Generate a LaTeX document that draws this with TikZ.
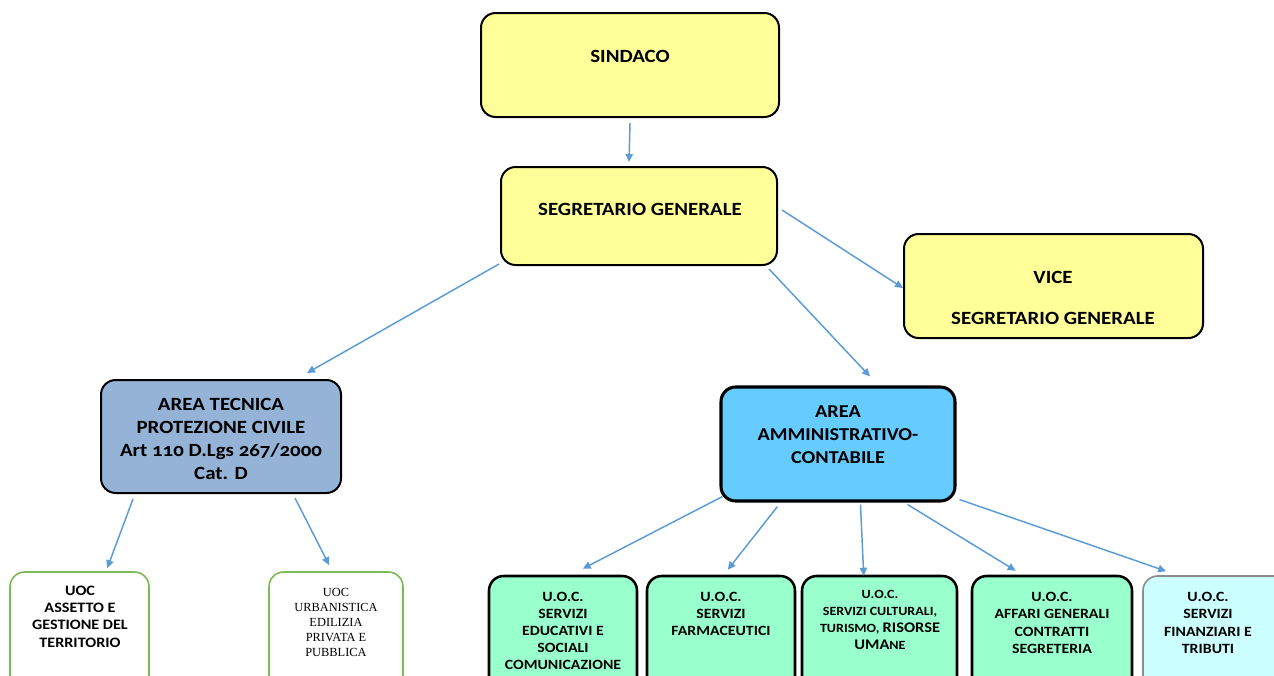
\documentclass[tikz,border=0pt]{standalone}
\usepackage{fontspec}
\setmainfont[FakeStretch=1.12]{Carlito}
\newfontfamily\onumfont[Numbers=OldStyle,FakeStretch=1.12]{Carlito}
\newfontfamily\serifx{Liberation Serif}
\usetikzlibrary{fit,calc,arrows.meta}
\definecolor{yel}{HTML}{FFFF99}
\definecolor{tecblue}{HTML}{95B3D7}
\definecolor{ammblue}{HTML}{66CCFF}
\definecolor{mint}{HTML}{99FFCC}
\definecolor{ltcyan}{HTML}{CCFFFF}
\definecolor{arrblue}{HTML}{5B9BD5}
\definecolor{leaf}{RGB}{125,185,85}
\definecolor{grayb}{HTML}{8C8C8C}
\tikzset{
  box/.style={draw=black, line width=1.5pt, rounded corners=11pt, inner sep=0pt},
  ybox/.style={box, fill=yel},
  gbox/.style={box, fill=mint, line width=1.9pt},
  wbox/.style={box, draw=leaf, line width=1.2pt, fill=white},
  txt/.style={align=center, inner sep=0pt, font=\bfseries\fontsize{14}{17}\selectfont},
  ttxt/.style={align=center, inner sep=0pt, font=\bfseries\fontsize{14}{17.25}\selectfont},
  atxt/.style={align=center, inner sep=0pt, font=\bfseries\fontsize{13.6}{17.25}\selectfont},
  stxt/.style={align=center, inner sep=0pt, font=\bfseries\fontsize{10.6}{12.9}\selectfont},
  arr/.style={draw=arrblue, line width=1.1pt, -{Triangle[length=6pt,width=5.5pt]}}
}
\begin{document}
\begin{tikzpicture}[x=0.75pt,y=-0.75pt]
\useasboundingbox (0,0) rectangle (1274,675);
\clip (0,0) rectangle (1274,675);
% boxes
\node[ybox, fit={(481,13) (779,117)}] (sindaco) {};
\node[ybox, fit={(501,167) (777,265)}] (segr) {};
\node[ybox, fit={(904,234) (1203,338)}] (vice) {};
\node[box, fill=tecblue, fit={(101,380) (341,493)}] (tec) {};
\node[box, fill=ammblue, line width=2.3pt, fit={(721,387) (955,501)}] (amm) {};
\node[wbox, fit={(10,572) (149,700)}] (assetto) {};
\node[wbox, fit={(269,572) (403,700)}] (urb) {};
\node[gbox, fit={(489,576) (637,700)}] (educ) {};
\node[gbox, fit={(647,576) (795,700)}] (farm) {};
\node[gbox, fit={(802,576) (957,700)}] (cult) {};
\node[gbox, fit={(972,576) (1132,700)}] (aff) {};
\node[box, fill=ltcyan, draw=grayb, line width=1.2pt, fit={(1143,576) (1290,700)}] (fin) {};
% texts
\node[txt] (sindacoT) at (630,56) {SINDACO};
\node[txt] (segrT) at (640,209) {SEGRETARIO GENERALE};
\node[txt] (viceT) at (1053,297.5) {VICE\\[13.75pt]SEGRETARIO GENERALE};
\node[ttxt] (tecT) at (221,439) {AREA TECNICA\\PROTEZIONE CIVILE\\{\onumfont\bfseries Art 110 D.Lgs 267/2000}\\Cat. D};
\node[atxt] (ammT) at (838,434.5) {AREA\\AMMINISTRATIVO-\\CONTABILE};
\node[align=center, inner sep=0pt, font=\bfseries\fontsize{10.8}{13}\selectfont] (assettoT) at (80,616.5) {UOC\\ASSETTO E\\GESTIONE DEL\\TERRITORIO};
\node[align=center, inner sep=0pt, font=\serifx\fontsize{9.3}{11.4}\selectfont] (urbT) at (336,622.5) {UOC\\URBANISTICA\\EDILIZIA\\PRIVATA E\\PUBBLICA};
\node[stxt] (educT) at (563,631) {U.O.C.\\SERVIZI\\EDUCATIVI E\\SOCIALI\\COMUNICAZIONE};
\node[stxt] (farmT) at (721,614) {U.O.C.\\SERVIZI\\FARMACEUTICI};
\node[align=center, inner sep=0pt, font=\bfseries\fontsize{9.4}{12.75}\selectfont] (cultT) at (880,619.5) {U.O.C.\\SERVIZI CULTURALI,\\TURISMO, {\fontsize{11}{12.75}\selectfont RISORSE}\\{\fontsize{11}{12.75}\selectfont UMA}NE};
\node[stxt] (affT) at (1052,623) {U.O.C.\\AFFARI GENERALI\\CONTRATTI\\SEGRETERIA};
\node[stxt] (finT) at (1208,623) {U.O.C.\\SERVIZI\\FINANZIARI E\\TRIBUTI};
% connectors
\draw[arr] ($(sindaco.south)+(0,5)$) -- ($(segr.north)+(-10,-4)$);
\draw[arr] ($(segr.east)+(4,-6)$) -- ($(vice.west)+(0,2)$);
\draw[arr] ($(segr.south west)+(-1,-2)$) -- ($(tec.north)+(86,-6)$);
\draw[arr] ($(segr.south east)+(-9,3)$) -- ($(amm.north)+(32,-9)$);
\draw[arr] ($(tec.south west)+(33,5)$) -- ($(assetto.north west)+(98,-3)$);
\draw[arr] ($(tec.south east)+(-47,4)$) -- ($(urb.north west)+(61,-6)$);
\draw[arr] ($(amm.south west)+(3,-6)$) -- ($(educ.north west)+(95,-6)$);
\draw[arr] ($(amm.south west)+(58,4)$) -- ($(farm.north west)+(82,-5)$);
\draw[arr] ($(amm.south west)+(141,2)$) -- ($(cult.north west)+(63,1)$);
\draw[arr] ($(amm.south east)+(-49,2)$) -- ($(aff.north west)+(45,-4)$);
\draw[arr] ($(amm.south east)+(3,-3)$) -- ($(fin.north west)+(24,-4)$);
\end{tikzpicture}
\end{document}
